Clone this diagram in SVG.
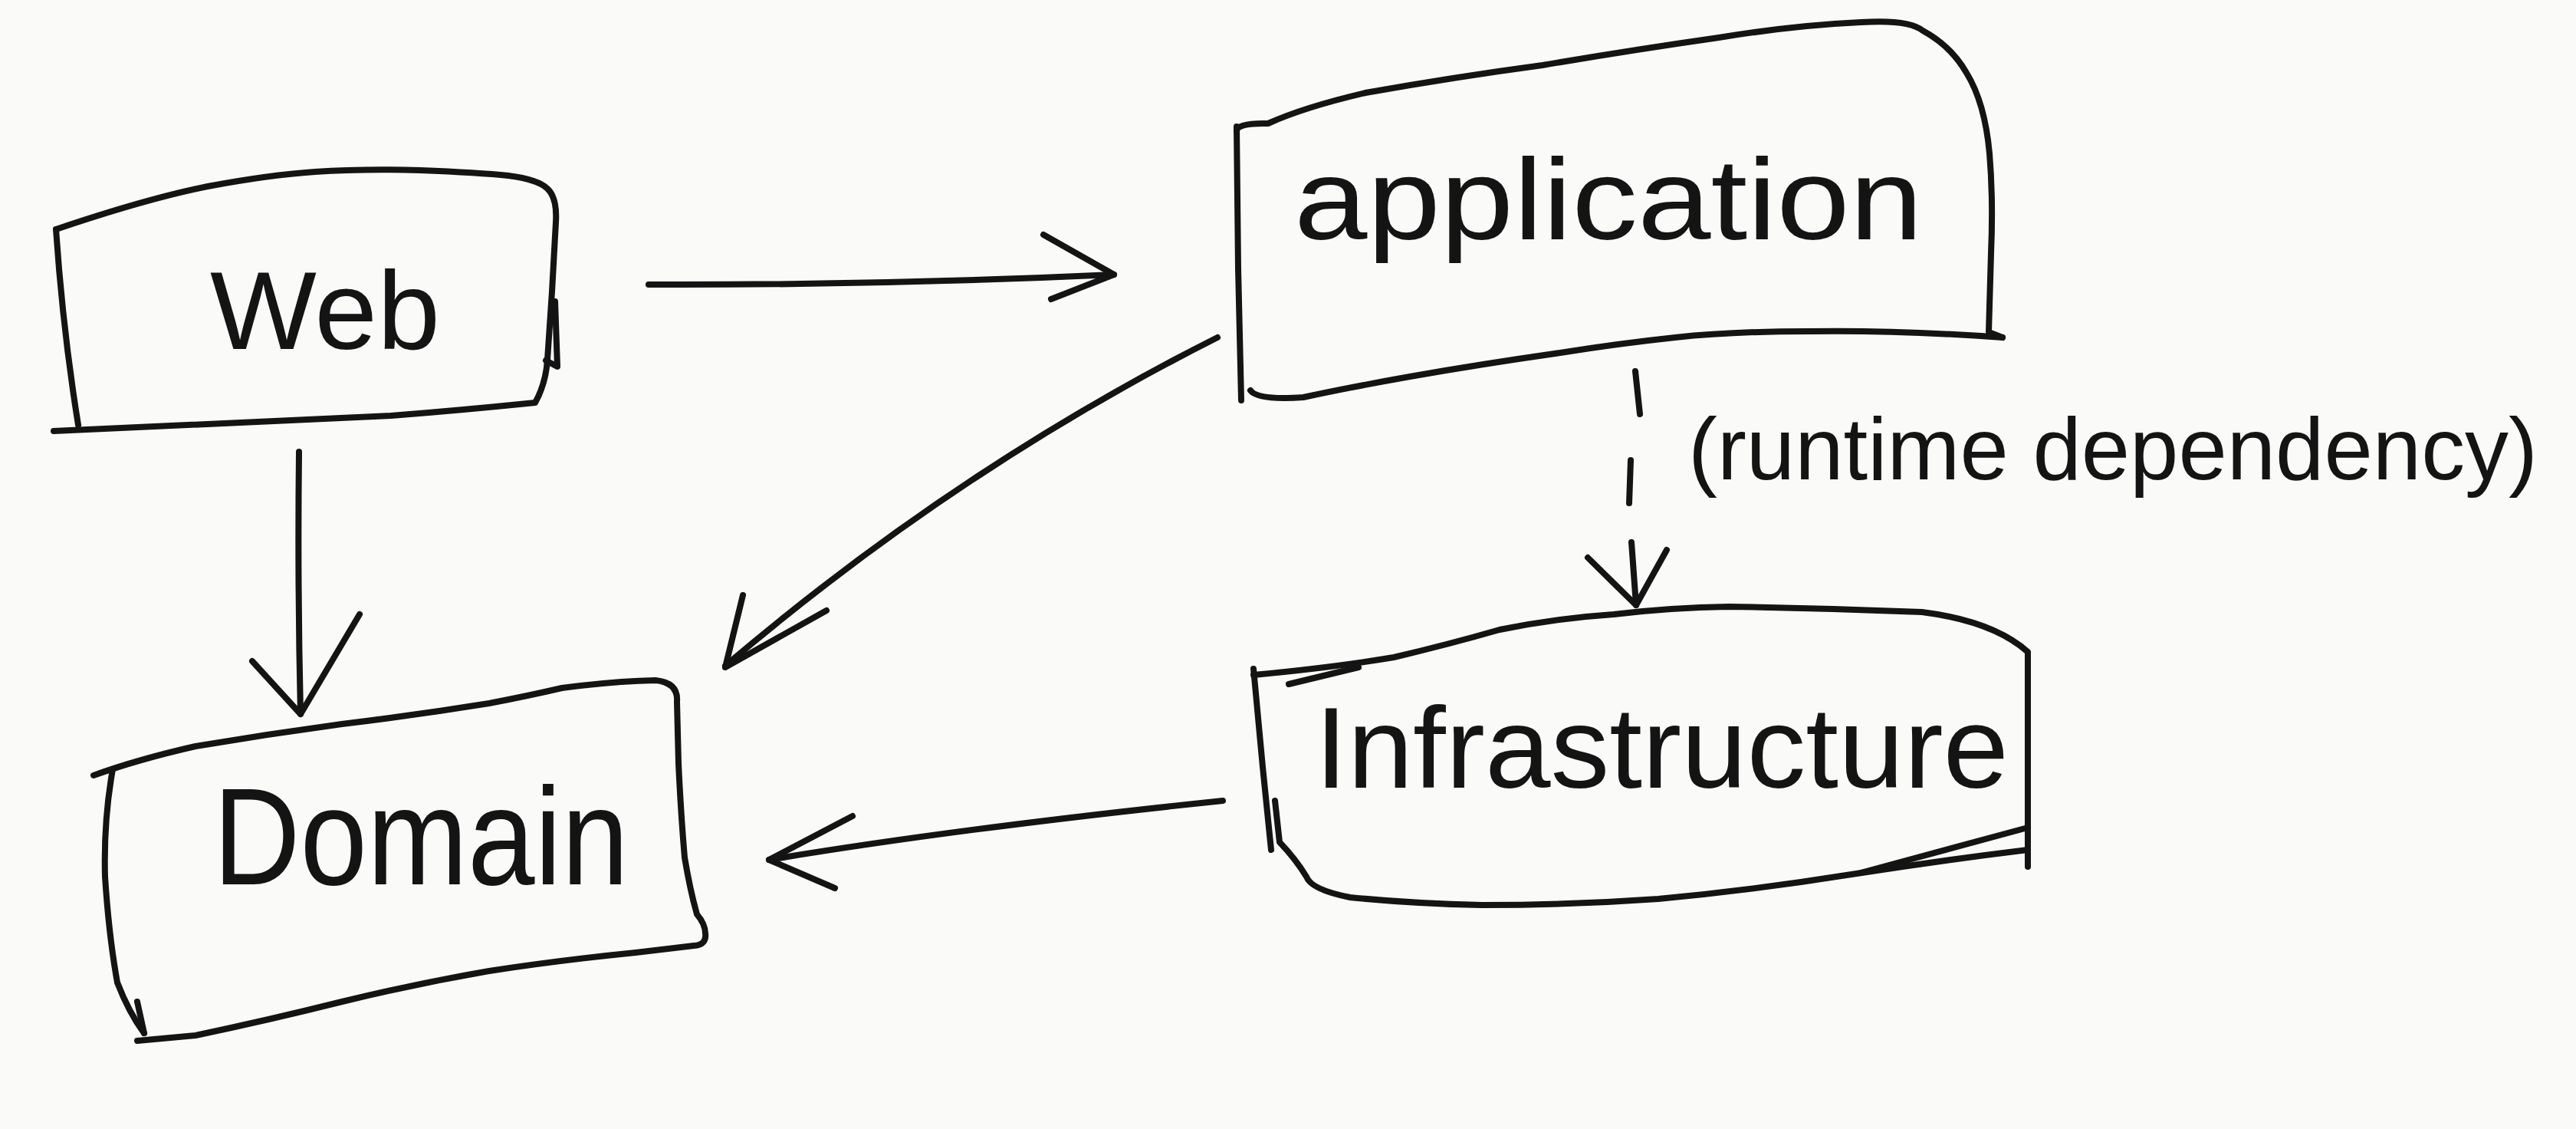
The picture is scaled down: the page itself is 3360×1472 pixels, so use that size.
<svg xmlns="http://www.w3.org/2000/svg" width="3360" height="1472" viewBox="0 0 3360 1472">
<style>
.ln{fill:none;stroke:#141414;stroke-width:8;stroke-linecap:round;stroke-linejoin:round}
.tx{font-family:"Liberation Sans",Arial,sans-serif;fill:#141414}
</style>
<rect width="3360" height="1472" fill="#fafaf8"/>
<g id="web">
<path class="ln" d="M73 299 Q191 259 271 243 Q351 228 411 224 Q472 220 548 222 Q625 225 663 229 Q702 234 714 246 Q727 258 725 290 L720 380 L714 469 Q712 500 698 525 Q600 535 510 542 Q255 554 70 562"/>
<path class="ln" d="M73 299 Q82 430 102 554"/>
<path class="ln" d="M724 393 L727 478 L712 470"/>
<text class="tx" x="274" y="455" font-size="145" textLength="300" lengthAdjust="spacingAndGlyphs">Web</text>
</g>
<g id="application">
<path class="ln" d="M1613 170 Q1615 160 1654 161 Q1700 140 1781 121 Q1900 100 2012 85 Q2130 65 2242 49 Q2340 33 2427 29 Q2490 25 2508 40 Q2545 60 2565 95 Q2589 134 2595 200 Q2600 260 2597 330 L2594 433 L2612 440"/>
<path class="ln" d="M2612 440 Q2470 430 2358 432 Q2260 432 2185 440 Q2110 448 2035 460 Q1930 475 1839 491 Q1760 505 1700 518 Q1640 522 1631 509"/>
<path class="ln" d="M1613 165 L1615 350 L1619 522"/>
<text class="tx" x="1688" y="312" font-size="150" textLength="820" lengthAdjust="spacingAndGlyphs">application</text>
</g>
<g id="domain">
<path class="ln" d="M122 1011 Q180 990 255 973 Q350 957 446 944 Q545 932 638 917 Q690 907 733 897 Q800 888 855 887 Q885 890 883 915 L885 995 Q888 1060 893 1118 Q900 1160 909 1192 Q920 1205 920 1217 Q922 1232 905 1233 L829 1242 Q730 1252 638 1266 Q540 1283 446 1306 Q350 1330 255 1350 L179 1357"/>
<path class="ln" d="M147 1003 Q135 1070 137 1143 Q142 1220 153 1281 Q168 1320 188 1347"/>
<path class="ln" d="M179 1306 L188 1347"/>
<text class="tx" x="278" y="1153" font-size="180" textLength="542" lengthAdjust="spacingAndGlyphs">Domain</text>
</g>
<g id="infrastructure">
<path class="ln" d="M1635 880 Q1740 870 1818 857 Q1890 840 1956 821 Q2030 806 2105 801 Q2180 792 2255 791 Q2380 793 2507 798 Q2600 810 2645 850 L2645 1130"/>
<path class="ln" d="M2645 1108 Q2530 1122 2415 1140 Q2290 1160 2163 1172 Q2050 1180 1933 1180 Q1840 1178 1761 1170 Q1710 1160 1704 1143 Q1690 1120 1669 1098 L1663 1044"/>
<path class="ln" d="M2645 1079 Q2530 1110 2427 1138"/>
<path class="ln" d="M1635 872 L1647 1000 L1658 1108"/>
<path class="ln" d="M1681 892 L1772 870"/>
<text class="tx" x="1715" y="1027" font-size="150" textLength="905" lengthAdjust="spacingAndGlyphs">Infrastructure</text>
</g>
<g id="connectors">
<path class="ln" d="M846 371 Q1150 372 1453 358"/>
<path class="ln" d="M1361 306 L1453 358 L1371 390"/>
<path class="ln" d="M390 589 Q388 760 392 931"/>
<path class="ln" d="M329 862 L392 931 L469 801"/>
<path class="ln" d="M1588 440 Q1250 610 946 868"/>
<path class="ln" d="M969 776 L946 870 L1078 796"/>
<path class="ln" d="M1595 1044 Q1250 1080 1003 1121"/>
<path class="ln" d="M1112 1064 L1003 1121 L1089 1158"/>
<path class="ln" d="M2133 484 L2139 540 M2127 600 L2125 656 M2128 707 L2134 789"/>
<path class="ln" d="M2071 727 L2134 789 L2174 717"/>
<text class="tx" x="2202" y="625" font-size="115" textLength="1108" lengthAdjust="spacingAndGlyphs">(runtime dependency)</text>
</g>
</svg>
